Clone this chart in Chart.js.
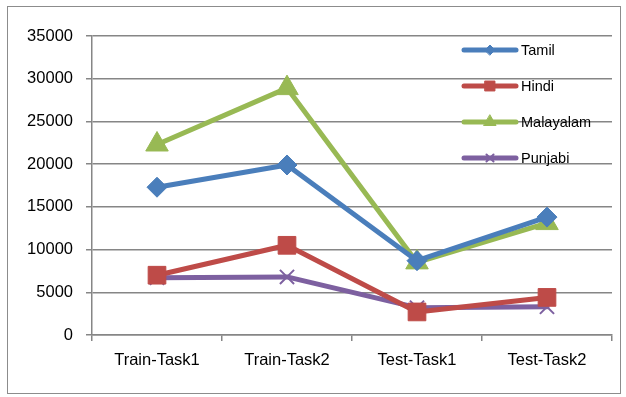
<!DOCTYPE html>
<html lang="en">
<head>
    <meta charset="UTF-8">
    <title>Tasks by language</title>
    <script src="https://cdn.jsdelivr.net/npm/chart.js"></script>
    <style>
        body { margin: 0; background: #fff; }
        #wrap { width: 626px; height: 397px; }
    </style>
</head>
<body>
<div id="wrap">
    <canvas id="grafico" width="626" height="397"></canvas>
</div>
<script>
    // data
    const categorias = ['Train-Task1', 'Train-Task2', 'Test-Task1', 'Test-Task2'];
    const tamil = [17300, 19900, 8700, 13800];
    const hindi = [7000, 10500, 2700, 4400];
    const malayalam = [22300, 28900, 8500, 13100];
    const punjabi = [6700, 6800, 3200, 3300];
    const yTicks = [0, 5000, 10000, 15000, 20000, 25000, 30000, 35000];

    const FONTE = "'Liberation Sans', Arial, sans-serif";

    function serie(label, data, cor, estilo, raio, borda) {
        return {
            label: label,
            data: data,
            borderColor: cor,
            backgroundColor: cor,
            borderWidth: 5,
            borderCapStyle: 'round',
            borderJoinStyle: 'round',
            pointStyle: estilo,
            pointRadius: raio,
            pointHoverRadius: raio,
            pointBorderWidth: borda,
            pointBackgroundColor: cor,
            pointBorderColor: cor,
            tension: 0
        };
    }

    // legenda desenhada por cima da area do grafico, como no original
    const legendaInterna = {
        id: 'legendaInterna',
        afterDraw(chart) {
            const ctx = chart.ctx;
            const itens = [
                { ds: 0, y: 50, r: 5 },
                { ds: 1, y: 86, r: 7 },
                { ds: 2, y: 122, r: 7 },
                { ds: 3, y: 158, r: 5 }
            ];
            ctx.save();
            itens.forEach(it => {
                const ds = chart.data.datasets[it.ds];
                ctx.strokeStyle = ds.borderColor;
                ctx.fillStyle = ds.borderColor;
                ctx.lineWidth = 5;
                ctx.lineCap = 'round';
                ctx.beginPath();
                ctx.moveTo(464, it.y);
                ctx.lineTo(516, it.y);
                ctx.stroke();
                ctx.lineWidth = ds.pointBorderWidth;
                Chart.helpers.drawPoint(ctx, {
                    pointStyle: ds.pointStyle,
                    radius: it.r,
                    rotation: 0,
                    borderWidth: ds.pointBorderWidth
                }, 490, it.y);
                ctx.fillStyle = '#000';
                ctx.font = '14.5px ' + FONTE;
                ctx.textBaseline = 'middle';
                ctx.textAlign = 'left';
                ctx.fillText(ds.label, 521, it.y + 1);
            });
            ctx.restore();
        }
    };

    const moldura = {
        id: 'moldura',
        beforeDraw(chart) {
            const ctx = chart.ctx;
            ctx.save();
            ctx.fillStyle = '#fff';
            ctx.fillRect(0, 0, chart.width, chart.height);
            ctx.strokeStyle = '#8c8c8c';
            ctx.lineWidth = 1;
            ctx.strokeRect(7.5, 6.5, 613, 387);
            ctx.restore();
        }
    };

    new Chart(document.getElementById('grafico'), {
        type: 'line',
        data: {
            labels: categorias,
            datasets: [
                serie('Tamil', tamil, '#4a7ebb', 'rectRot', 10, 1),
                serie('Hindi', hindi, '#be4b48', 'rect', 12.5, 1),
                serie('Malayalam', malayalam, '#98b954', 'triangle', 13, 1),
                serie('Punjabi', punjabi, '#7d60a0', 'crossRot', 10, 2)
            ]
        },
        options: {
            responsive: false,
            animation: false,
            layout: { padding: { left: 0, top: 36, right: 14, bottom: 0 } },
            plugins: {
                legend: { display: false },
                tooltip: { enabled: false }
            },
            scales: {
                x: {
                    offset: true,
                    grid: {
                        offset: true,
                        drawOnChartArea: false,
                        drawTicks: true,
                        tickLength: 6,
                        color: '#868686',
                        lineWidth: 1.5
                    },
                    border: { color: '#868686', width: 1.5 },
                    ticks: {
                        color: '#000',
                        padding: 10,
                        font: { family: FONTE, size: 16.5 },
                        maxRotation: 0
                    },
                    afterFit: s => { s.height = 62; }
                },
                y: {
                    min: 0,
                    max: 35000,
                    afterBuildTicks: s => { s.ticks = yTicks.map(v => ({ value: v })); },
                    grid: {
                        color: '#868686',
                        lineWidth: 1.5,
                        tickLength: 6
                    },
                    border: { color: '#868686', width: 1.5 },
                    ticks: {
                        color: '#000',
                        padding: 13,
                        font: { family: FONTE, size: 16.5 },
                        callback: v => String(v)
                    },
                    afterFit: s => { s.width = 92; }
                }
            }
        },
        plugins: [moldura, legendaInterna]
    });
</script>
</body>
</html>
